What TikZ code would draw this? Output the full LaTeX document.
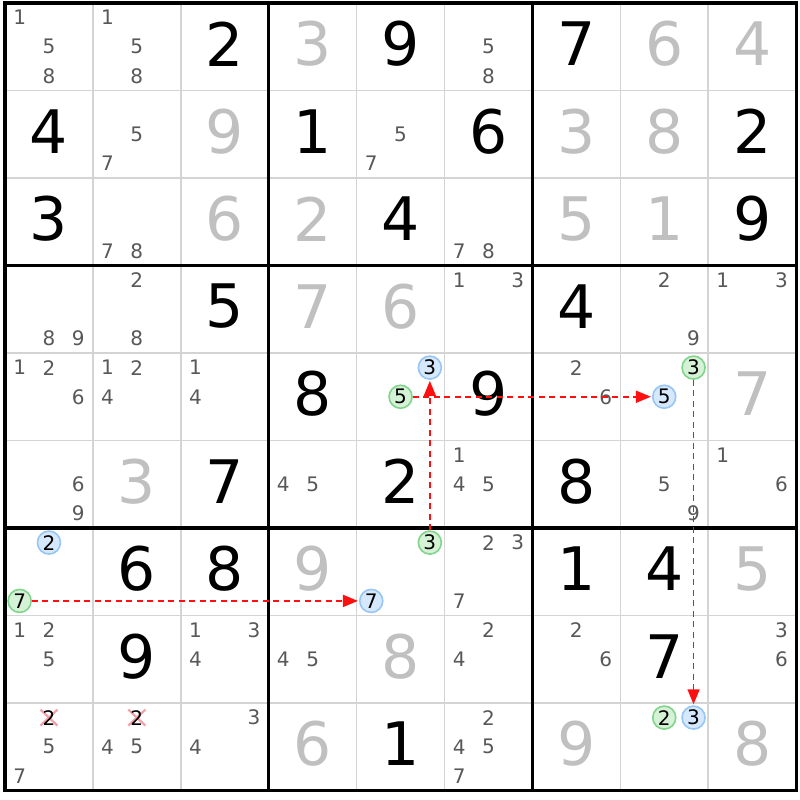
\documentclass[tikz,border=0pt]{standalone}
\usepackage{fontspec}
\setmainfont{DejaVu Sans}
\usetikzlibrary{arrows.meta}
\definecolor{solvedc}{HTML}{C0C0C0}
\definecolor{candc}{HTML}{585858}
\definecolor{thinc}{HTML}{D4D4D4}
\definecolor{bluefill}{HTML}{D6E8FB}
\definecolor{blueline}{HTML}{96C6F6}
\definecolor{greenfill}{HTML}{D6F2D6}
\definecolor{greenline}{HTML}{80D48C}
\definecolor{linkred}{HTML}{FF1010}
\definecolor{crossc}{HTML}{F4A0A8}
\newcommand\GX{5}
\newcommand\GY{3}
\newcommand\CW{87.9}
\newcommand\CH{87.5}
\tikzset{
  given/.style={font=\fontsize{60}{60}\selectfont, text=black, inner sep=0pt},
  solved/.style={given, text=solvedc},
  cand/.style={font=\fontsize{20}{20}\selectfont, text=candc, inner sep=0pt},
  bluecirc/.style={circle, draw=blueline, fill=bluefill, line width=1.6pt, minimum size=23pt, inner sep=0pt, font=\fontsize{20}{20}\selectfont, text=black},
  greencirc/.style={bluecirc, draw=greenline, fill=greenfill},
  gridthin/.style={draw=thinc, line width=1.6pt},
  gridthick/.style={draw=black, line width=3.2pt},
  link/.style={draw=linkred, line width=1.6pt, dash pattern=on 6pt off 4.5pt, -{Triangle[length=15pt,width=12pt]}, shorten >=1pt},
  crossline/.style={draw=crossc, line width=2.2pt}
}
\newcommand\Val[4][given]{%
  \pgfmathsetmacro\px{\GX+\CW*(#3+0.5)}%
  \pgfmathsetmacro\py{\GY+\CH*(#2+0.5)-3}%
  \node[#1] (v#2#3) at (\px,\py) {#4};}
\newcommand\Cand[4][cand]{%
  \pgfmathsetmacro\px{\GX+\CW*(#3+(mod(#4-1,3)+0.5)/3)}%
  \pgfmathsetmacro\py{\GY+\CH*(#2+(floor((#4-1)/3)+0.5)/3)}%
  \node[#1] (c#2#3#4) at (\px,\py) {#4};}
\newcommand\Cands[3]{\foreach \d in {#3}{\Cand{#1}{#2}{\d}}}
\newcommand\Crossed[3]{%
  \pgfmathsetmacro\px{\GX+\CW*(#2+(mod(#3-1,3)+0.5)/3)}%
  \pgfmathsetmacro\py{\GY+\CH*(#1+(floor((#3-1)/3)+0.5)/3)}%
  \draw[crossline] (\px-8.5,\py-8) -- (\px+8.5,\py+8) (\px-8.5,\py+8) -- (\px+8.5,\py-8);
  \node[cand, text=black] (c#1#2#3) at (\px,\py) {#3};}
\begin{document}
\begin{tikzpicture}[x=1pt,y=-1pt]
\useasboundingbox[fill=white] (0,0) rectangle (800,800);
% grid
\foreach \i in {1,2,4,5,7,8}{
  \draw[gridthin] ({\GX+\CW*\i},\GY) -- ({\GX+\CW*\i},{\GY+9*\CH});
  \draw[gridthin] (\GX,{\GY+\CH*\i}) -- ({\GX+9*\CW},{\GY+\CH*\i});
}
\foreach \i in {3,6}{
  \draw[gridthick] ({\GX+\CW*\i},\GY) -- ({\GX+\CW*\i},{\GY+9*\CH});
  \draw[gridthick] (\GX,{\GY+\CH*\i}) -- ({\GX+9*\CW},{\GY+\CH*\i});
}
\draw[gridthick] (\GX,\GY) rectangle ({\GX+9*\CW},{\GY+9*\CH});
% row 0
\Cands{0}{0}{1,5,8} \Cands{0}{1}{1,5,8} \Val{0}{2}{2} \Val[solved]{0}{3}{3}
\Val{0}{4}{9} \Cands{0}{5}{5,8} \Val{0}{6}{7} \Val[solved]{0}{7}{6} \Val[solved]{0}{8}{4}
% row 1
\Val{1}{0}{4} \Cands{1}{1}{5,7} \Val[solved]{1}{2}{9} \Val{1}{3}{1} \Cands{1}{4}{5,7}
\Val{1}{5}{6} \Val[solved]{1}{6}{3} \Val[solved]{1}{7}{8} \Val{1}{8}{2}
% row 2
\Val{2}{0}{3} \Cands{2}{1}{7,8} \Val[solved]{2}{2}{6} \Val[solved]{2}{3}{2} \Val{2}{4}{4}
\Cands{2}{5}{7,8} \Val[solved]{2}{6}{5} \Val[solved]{2}{7}{1} \Val{2}{8}{9}
% row 3
\Cands{3}{0}{8,9} \Cands{3}{1}{2,8} \Val{3}{2}{5} \Val[solved]{3}{3}{7} \Val[solved]{3}{4}{6}
\Cands{3}{5}{1,3} \Val{3}{6}{4} \Cands{3}{7}{2,9} \Cands{3}{8}{1,3}
% row 4
\Cands{4}{0}{1,2,6} \Cands{4}{1}{1,2,4} \Cands{4}{2}{1,4} \Val{4}{3}{8}
\Cand[bluecirc]{4}{4}{3} \Cand[greencirc]{4}{4}{5} \Val{4}{5}{9} \Cands{4}{6}{2,6}
\Cand[greencirc]{4}{7}{3} \Cand[bluecirc]{4}{7}{5} \Val[solved]{4}{8}{7}
% row 5
\Cands{5}{0}{6,9} \Val[solved]{5}{1}{3} \Val{5}{2}{7} \Cands{5}{3}{4,5} \Val{5}{4}{2}
\Cands{5}{5}{1,4,5} \Val{5}{6}{8} \Cands{5}{7}{5,9} \Cands{5}{8}{1,6}
% row 6
\Cand[bluecirc]{6}{0}{2} \Cand[greencirc]{6}{0}{7} \Val{6}{1}{6} \Val{6}{2}{8}
\Val[solved]{6}{3}{9} \Cand[greencirc]{6}{4}{3} \Cand[bluecirc]{6}{4}{7} \Cands{6}{5}{2,3,7}
\Val{6}{6}{1} \Val{6}{7}{4} \Val[solved]{6}{8}{5}
% row 7
\Cands{7}{0}{1,2,5} \Val{7}{1}{9} \Cands{7}{2}{1,3,4} \Cands{7}{3}{4,5} \Val[solved]{7}{4}{8}
\Cands{7}{5}{2,4} \Cands{7}{6}{2,6} \Val{7}{7}{7} \Cands{7}{8}{3,6}
% row 8
\Crossed{8}{0}{2} \Cands{8}{0}{5,7} \Crossed{8}{1}{2} \Cands{8}{1}{4,5} \Cands{8}{2}{3,4}
\Val[solved]{8}{3}{6} \Val{8}{4}{1} \Cands{8}{5}{2,4,5,7} \Val[solved]{8}{6}{9}
\Cand[greencirc]{8}{7}{2} \Cand[bluecirc]{8}{7}{3} \Val[solved]{8}{8}{8}
% links
\draw[link] (c445) -- (c475);
\draw[link] (c643) -- (c443);
\draw[link] (c473) -- (c873);
\draw[link] (c607) -- (c647);
\end{tikzpicture}
\end{document}
